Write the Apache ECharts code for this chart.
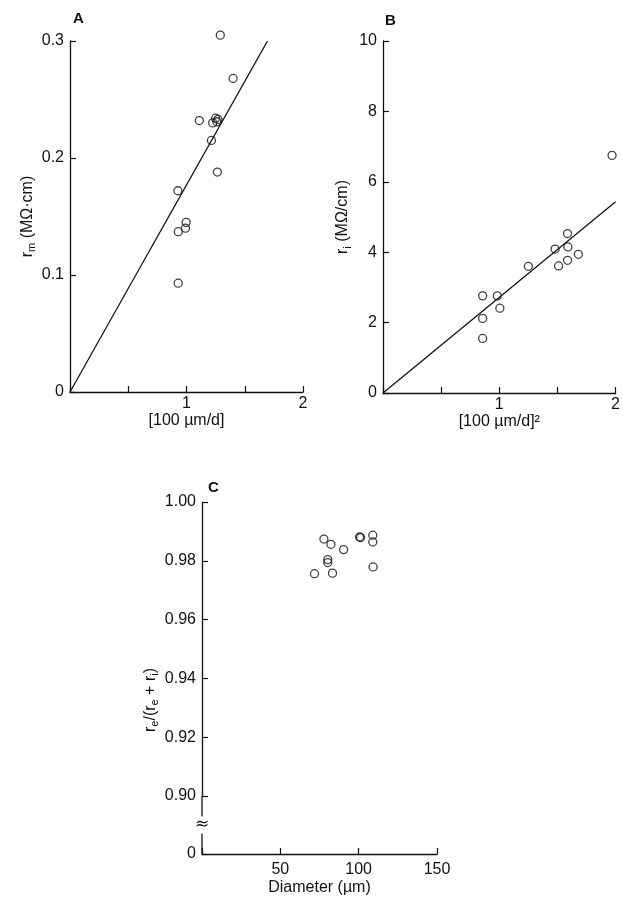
<!DOCTYPE html>
<html>
<head>
<meta charset="utf-8">
<script src="https://cdn.jsdelivr.net/npm/echarts@6/dist/echarts.min.js"></script>
<style>
  html, body { margin: 0; padding: 0; background: #fff; }
  #chart { width: 623px; height: 900px; }
</style>
</head>
<body>
<div id="chart"></div>
<script>
// Panel A: r_m vs [100 um/d]
const pointsA = [
  [1.29, 0.305], [1.40, 0.268], [1.11, 0.232], [1.225, 0.230], [1.25, 0.234],
  [1.26, 0.231], [1.27, 0.233], [1.214, 0.215], [1.265, 0.188], [0.926, 0.172],
  [0.997, 0.145], [0.991, 0.140], [0.929, 0.137], [0.929, 0.093]
];
const fitA = [[0, 0], [1.695, 0.300]];

// Panel B: r_i vs [100 um/d]^2
const pointsB = [
  [1.97, 6.75], [1.587, 4.53], [1.48, 4.09], [1.59, 4.15], [1.68, 3.94],
  [1.587, 3.77], [1.51, 3.61], [1.25, 3.60], [0.857, 2.76], [0.983, 2.76],
  [1.005, 2.41], [0.857, 2.12], [0.857, 1.55]
];
const fitB = [[0, 0], [2.0, 5.43]];

// Panel C: re/(re+ri) vs diameter
const pointsC = [
  [77.8, 0.9874], [82.3, 0.9856], [90.4, 0.9838], [100.6, 0.9881], [101.2, 0.9879],
  [109, 0.9887], [109, 0.9864], [80.3, 0.9804], [80.3, 0.9794], [71.8, 0.9756],
  [83.3, 0.9758], [109.2, 0.9779]
];
// axis break in panel C: 0 .. 0.90 squeezed into one step
const breakC = { start: 0, end: 0.9 };

const ink = '#111';
const font = 'Liberation Sans';

const nameRich = {
  i: { fontSize: 16, fontFamily: font, color: ink, lineHeight: 20 },
  s: { fontSize: 11, fontFamily: font, color: ink, lineHeight: 11, verticalAlign: 'bottom' }
};

function baseAxis(extra) {
  return Object.assign({
    type: 'value',
    axisLine: { lineStyle: { color: ink, width: 1.3 } },
    axisTick: { inside: true, length: 6, lineStyle: { color: ink, width: 1.2 } },
    splitLine: { show: false },
    axisLabel: { color: ink, fontSize: 16, fontFamily: font },
    nameTextStyle: { color: ink, fontSize: 16, fontFamily: font, rich: nameRich }
  }, extra);
}

function integerOnly(v) {
  return (v > 0 && Math.abs(v - Math.round(v)) < 1e-9) ? String(Math.round(v)) : '';
}

const circle = {
  type: 'scatter',
  symbol: 'circle',
  symbolSize: 8,
  clip: false,
  itemStyle: { color: 'rgba(0,0,0,0)', borderColor: ink, borderWidth: 1.3 },
  silent: true
};

const option = {
  animation: false,
  backgroundColor: '#fff',
  title: [
    { text: 'A', left: 68, top: 6, textStyle: { fontSize: 15, fontWeight: 'bold', color: ink, fontFamily: font } },
    { text: 'B', left: 380, top: 8, textStyle: { fontSize: 15, fontWeight: 'bold', color: ink, fontFamily: font } },
    { text: 'C', left: 203, top: 475, textStyle: { fontSize: 15, fontWeight: 'bold', color: ink, fontFamily: font } }
  ],
  grid: [
    { left: 70, top: 41, width: 233, height: 351 },
    { left: 383, top: 41, width: 234, height: 352 },
    { left: 202, top: 502, width: 235, height: 352 }
  ],
  xAxis: [
    baseAxis({
      gridIndex: 0, min: 0, max: 2, interval: 0.5,
      name: '[100 µm/d]', nameLocation: 'middle', nameGap: 20,
      axisLabel: { color: ink, fontSize: 16, fontFamily: font, margin: 4, formatter: integerOnly }
    }),
    baseAxis({
      gridIndex: 1, min: 0, max: 2, interval: 0.5,
      name: '[100 µm/d]²', nameLocation: 'middle', nameGap: 20,
      axisLabel: { color: ink, fontSize: 16, fontFamily: font, margin: 4, formatter: integerOnly }
    }),
    baseAxis({
      gridIndex: 2, min: 0, max: 150, interval: 50,
      name: 'Diameter (µm)', nameLocation: 'middle', nameGap: 26,
      axisLabel: { color: ink, fontSize: 16, fontFamily: font, margin: 8, formatter: integerOnly }
    })
  ],
  yAxis: [
    baseAxis({
      gridIndex: 0, min: 0, max: 0.3, interval: 0.1,
      name: '{i|r}{s|m}{i| (MΩ·cm)}', nameLocation: 'middle', nameGap: 32,
      axisLabel: { color: ink, fontSize: 16, fontFamily: font, margin: 6,
        formatter: v => v === 0 ? '0' : v.toFixed(1) }
    }),
    baseAxis({
      gridIndex: 1, min: 0, max: 10, interval: 2,
      name: '{i|r}{s|i}{i| (MΩ/cm)}', nameLocation: 'middle', nameGap: 30,
      axisLabel: { color: ink, fontSize: 16, fontFamily: font, margin: 6 }
    }),
    baseAxis({
      gridIndex: 2, min: 0, max: 1, interval: 0.02,
      breaks: [{ start: breakC.start, end: breakC.end, gap: '16.5%' }],
      breakArea: { show: false },
      name: '{i|r}{s|e}{i|/(r}{s|e}{i| + r}{s|i}{i|)}', nameLocation: 'middle', nameGap: 40,
      nameTextStyle: { color: ink, fontSize: 16, fontFamily: font, rich: nameRich, padding: [0, 44, 0, 0] },
      axisLabel: { color: ink, fontSize: 16, fontFamily: font, margin: 6,
        formatter: v => Math.abs(v) < 1e-9 ? '0' : v.toFixed(2) }
    })
  ],
  series: [
    Object.assign({ xAxisIndex: 0, yAxisIndex: 0, data: pointsA }, circle),
    { type: 'line', xAxisIndex: 0, yAxisIndex: 0, data: fitA, showSymbol: false, silent: true,
      lineStyle: { color: ink, width: 1.3 } },
    Object.assign({ xAxisIndex: 1, yAxisIndex: 1, data: pointsB }, circle),
    { type: 'line', xAxisIndex: 1, yAxisIndex: 1, data: fitB, showSymbol: false, silent: true,
      lineStyle: { color: ink, width: 1.3 } },
    Object.assign({ xAxisIndex: 2, yAxisIndex: 2, data: pointsC }, circle)
  ]
};

const chart = echarts.init(document.getElementById('chart'));
chart.setOption(option);

// Axis line across the break, with the break mark in its middle
const p0 = chart.convertToPixel({ gridIndex: 2 }, [0, breakC.start]);
const p9 = chart.convertToPixel({ gridIndex: 2 }, [0, breakC.end]);
chart.setOption({
  graphic: [
    { type: 'line', silent: true, shape: { x1: p0[0], y1: p0[1], x2: p9[0], y2: p9[1] },
      style: { stroke: ink, lineWidth: 1.3 } },
    { type: 'text', silent: true, x: p0[0], y: (p0[1] + p9[1]) / 2,
      style: { text: '≈', fill: ink, font: '17px "DejaVu Sans"', align: 'center', verticalAlign: 'middle',
        backgroundColor: '#fff', padding: [0, 0, 0, 0] } }
  ]
});
</script>
</body>
</html>
